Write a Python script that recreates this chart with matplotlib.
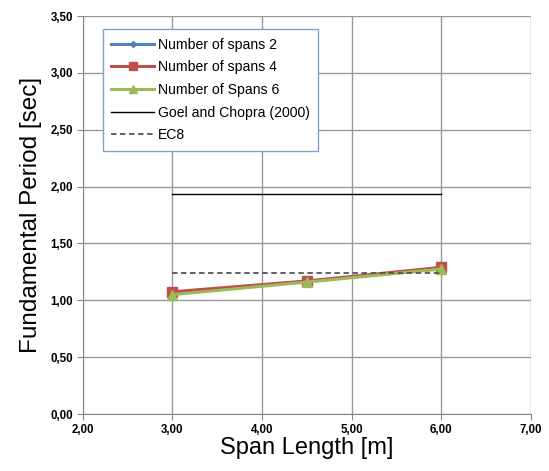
import numpy as np
import matplotlib
matplotlib.use('Agg')
import matplotlib.pyplot as plt
from matplotlib.ticker import FuncFormatter

plt.rcParams['font.family'] = ['Liberation Sans', 'DejaVu Sans']

# donnees
span_length = [3.0, 4.5, 6.0]
spans_2 = [1.06, 1.165, 1.28]
spans_4 = [1.075, 1.17, 1.29]
spans_6 = [1.05, 1.16, 1.275]
goel_x = [3.0, 6.0]
goel_y = [1.935, 1.935]
ec8_x = [3.0, 6.0]
ec8_y = [1.24, 1.24]

fig = plt.figure(figsize=(5.49, 4.71), dpi=100)
ax = fig.add_axes([0.151, 0.121, 0.816, 0.845])

ax.plot(span_length, spans_2, color='#4F81BD', lw=2.2, marker='D', ms=4, label='Number of spans 2')
ax.plot(span_length, spans_4, color='#C0504D', lw=2.2, marker='s', ms=7, label='Number of spans 4')
ax.plot(span_length, spans_6, color='#9BBB59', lw=2.2, marker='^', ms=7, label='Number of Spans 6')
ax.plot(goel_x, goel_y, color='black', lw=1.0, label='Goel and Chopra (2000)')
ax.plot(ec8_x, ec8_y, color='#555555', lw=1.3, ls=(0, (3, 2)), label='EC8')

ax.set_xlim(2, 7)
ax.set_ylim(0, 3.5)
ax.set_xticks(np.arange(2, 7.01, 1))
ax.set_yticks(np.arange(0, 3.51, 0.5))
fmt = FuncFormatter(lambda v, p: ('%.2f' % v).replace('.', ','))
ax.xaxis.set_major_formatter(fmt)
ax.yaxis.set_major_formatter(fmt)
for lab in ax.get_xticklabels() + ax.get_yticklabels():
    lab.set_fontweight('bold')
    lab.set_fontsize(8.3)

ax.grid(True, color='#999999', lw=1.0)
ax.set_axisbelow(True)
for s in ['top', 'right']:
    ax.spines[s].set_visible(False)
for s in ['left', 'bottom']:
    ax.spines[s].set_color('#888888')
ax.tick_params(direction='out', length=4, color='#888888', pad=3)

ax.set_xlabel('Span Length [m]', fontsize=17, labelpad=1)
ax.set_ylabel('Fundamental Period [sec]', fontsize=17.5, labelpad=6)

leg = ax.legend(loc='upper left', bbox_to_anchor=(0.045, 0.967), borderaxespad=0,
                fontsize=10.1, frameon=True,
                fancybox=False, edgecolor='#7F9FCF', framealpha=1, handlelength=3.0,
                labelspacing=0.62, borderpad=0.6, handletextpad=0.3, markerscale=0.75)
leg.get_frame().set_linewidth(1.0)

fig.savefig('out.png', dpi=100)
